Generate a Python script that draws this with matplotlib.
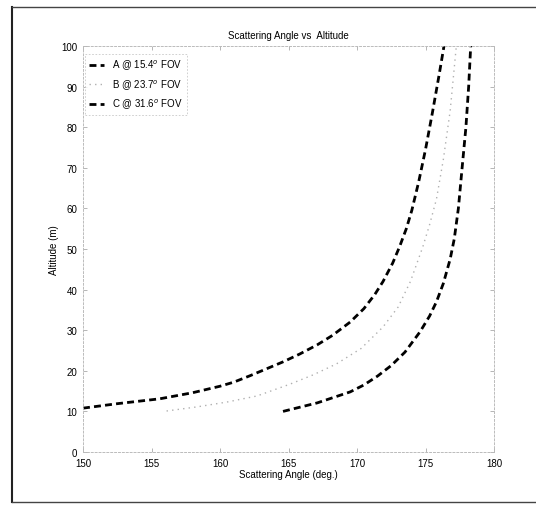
import numpy as np
import matplotlib
matplotlib.use('Agg')
import matplotlib.pyplot as plt
from matplotlib.lines import Line2D

plt.rcParams['font.family'] = ['Liberation Sans', 'DejaVu Sans']

# 数据：散射角 (deg) 与高度 (m)
angle_a = [150.0, 152.5, 155.6, 158.0, 160.0, 161.0, 162.2, 163.4, 164.6, 165.8, 167.1, 168.2, 169.5,
           170.5, 171.3, 171.9, 172.6, 173.1, 173.6, 174.0, 174.5, 175.0, 175.5, 176.0, 176.35]
alt_a = [10.8, 11.9, 13.1, 14.6, 16.2, 17.2, 18.8, 20.5, 22.2, 24.1, 26.4, 28.7, 32.0,
         35.3, 38.8, 42.0, 46.5, 50.5, 55.0, 59.5, 66.5, 74.5, 83.5, 93.0, 100.0]

angle_b = [156.1, 158.3, 160.5, 162.7, 165.1, 166.8, 168.5, 170.3, 171.9, 173.0, 173.9,
           174.8, 175.3, 175.8, 176.3, 176.8, 177.25]
alt_b = [10.1, 11.1, 12.3, 13.8, 16.7, 19.0, 21.7, 25.5, 30.8, 35.7, 42.0,
         50.5, 56.0, 62.3, 72.0, 84.0, 100.0]

angle_c = [164.6, 167.1, 169.5, 170.5, 171.5, 172.5, 173.5, 174.6, 175.3, 175.8, 176.3, 176.8,
           177.1, 177.4, 177.7, 177.95, 178.15, 178.3]
alt_c = [10.0, 12.1, 14.8, 16.5, 18.7, 21.3, 24.6, 29.6, 33.5, 37.0, 41.5, 47.5,
         52.5, 60.0, 71.0, 80.0, 90.0, 100.0]

labels = ['A @ 15.4$^o$ FOV', 'B @ 23.7$^o$ FOV', 'C @ 31.6$^o$ FOV']

fig = plt.figure(figsize=(5.36, 5.06), dpi=100)
ax = fig.add_axes([83 / 536, 1 - 453 / 506, 411 / 536, 406 / 506])

ax.plot(angle_a, alt_a, color='black', linestyle=(0, (2.5, 1.5)), linewidth=2.0, label=labels[0])
ax.plot(angle_b, alt_b, color='#b0b0b0', linestyle=(0, (1, 3)), linewidth=1.0, label=labels[1])
ax.plot(angle_c, alt_c, color='black', linestyle=(0, (2.5, 1.5)), linewidth=2.0, label=labels[2])

ax.set_xlim(150, 180)
ax.set_ylim(0, 100)
ax.set_xticks(np.arange(150, 181, 5))
ax.set_yticks(np.arange(0, 101, 10))
ax.tick_params(direction='in', length=3, width=0.6, color='#aaaaaa', labelsize=7,
               top=True, right=True, pad=4)
for s in ax.spines.values():
    s.set_color('#bbbbbb')
    s.set_linewidth(0.7)
    s.set_linestyle((0, (2, 2)))

ax.set_title('Scattering Angle vs  Altitude', fontsize=7, pad=6)
ax.set_xlabel('Scattering Angle (deg.)', fontsize=7, labelpad=1)
ax.set_ylabel('Altitude (m)', fontsize=7, labelpad=2)

leg = ax.legend(loc='upper left', fontsize=7, frameon=True, fancybox=False,
                handlelength=1.6, handletextpad=0.8, borderpad=0.4, labelspacing=0.55,
                bbox_to_anchor=(0.0, 0.985), borderaxespad=0.2)
leg.get_frame().set_edgecolor('#bbbbbb')
leg.get_frame().set_linewidth(0.6)
leg.get_frame().set_linestyle((0, (2, 2)))

# 扫描件外框
fig.add_artist(Line2D([12 / 536, 12 / 536], [1 - 8 / 506, 1 - 503 / 506], color='#222222', linewidth=1.5))
fig.add_artist(Line2D([12 / 536, 1.0], [1 - 8 / 506, 1 - 8 / 506], color='#444444', linewidth=1.0))
fig.add_artist(Line2D([12 / 536, 1.0], [1 - 503 / 506, 1 - 503 / 506], color='#444444', linewidth=1.0))

fig.savefig('out.png', dpi=100)
